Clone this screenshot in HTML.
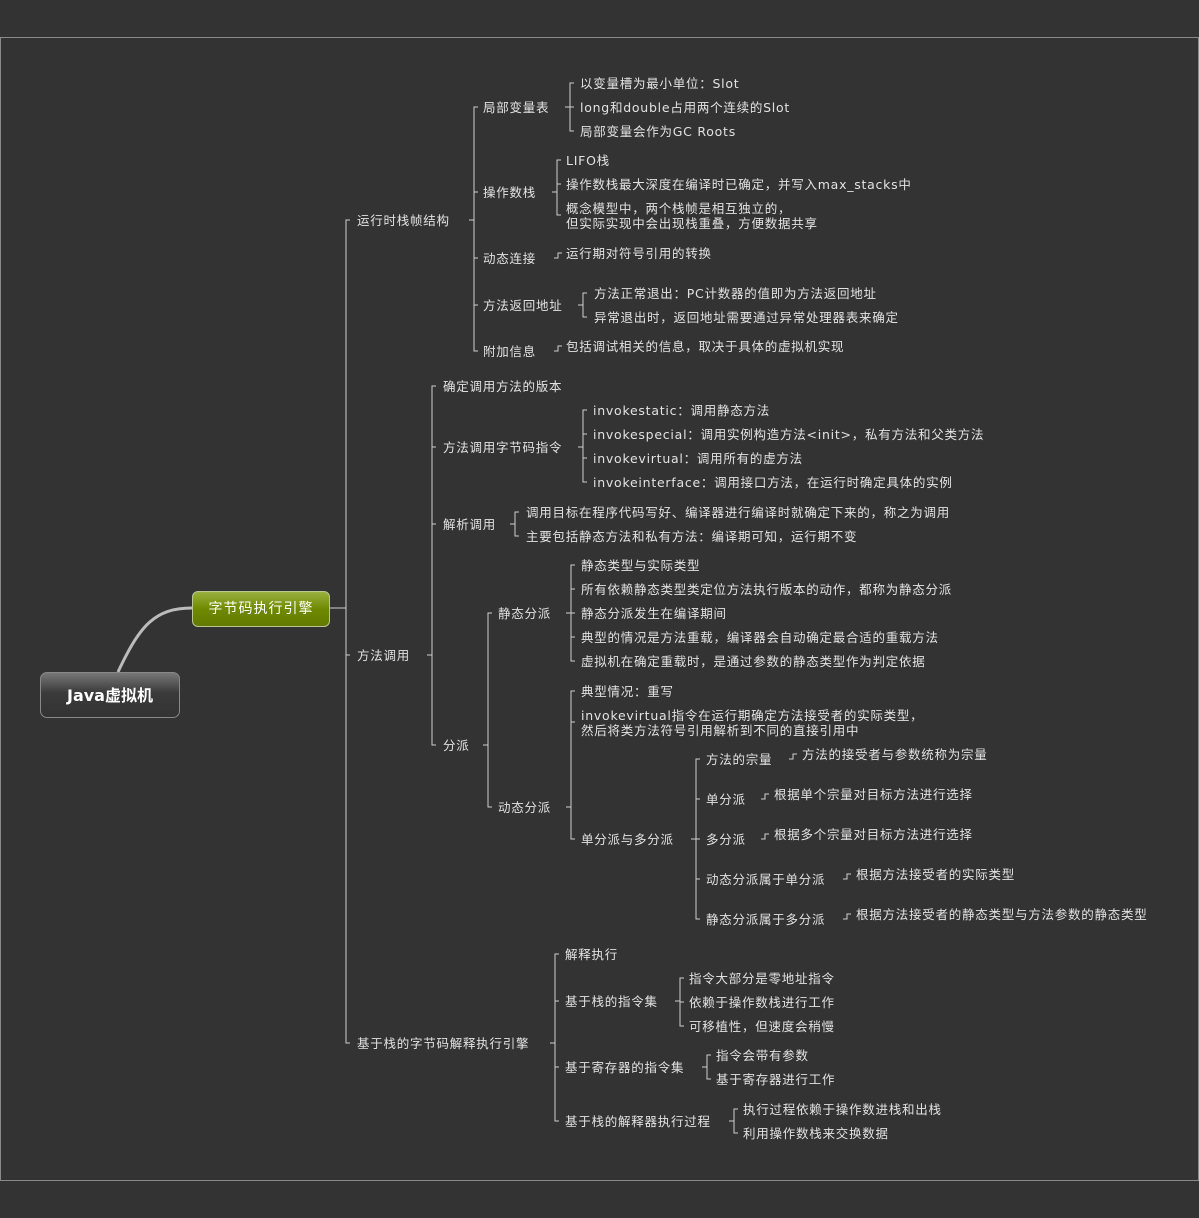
<!DOCTYPE html>
<html><head><meta charset="utf-8">
<style>
html,body{margin:0;padding:0;background:#333;width:1199px;height:1218px;overflow:hidden;position:relative}
.frame{position:absolute;left:0;top:37px;width:1197px;height:1142px;border:1px solid #8a8a8a;}
.w{position:absolute;left:0;top:1px;width:1199px;height:1218px}
.t{position:absolute;font-family:"DejaVu Sans","Noto Sans CJK SC",sans-serif;font-size:12.5px;letter-spacing:0.75px;color:#e2e2e2;line-height:15px;white-space:nowrap}
svg{position:absolute;left:0;top:0}
.root{position:absolute;left:40px;top:672px;width:140px;height:46px;border-radius:7px;border:1px solid #888;background:linear-gradient(#777,#3a3a3a 45%,#333);color:#fff;font:bold 16px "DejaVu Sans","Noto Sans CJK SC",sans-serif;text-align:center;line-height:46px;box-sizing:border-box}
.main{position:absolute;left:192px;top:591px;width:138px;height:36px;border-radius:6px;border:1px solid #b8c890;background:linear-gradient(#9ab040,#6f8a00 50%,#627a00);color:#fff;font:14px "DejaVu Sans","Noto Sans CJK SC",sans-serif;text-align:center;line-height:34px;box-sizing:border-box;letter-spacing:1px}
</style></head><body>
<div class="frame"></div>
<svg id="s" width="1199" height="1218"></svg>
<div class="root">Java虚拟机</div>
<div class="main">字节码执行引擎</div>
<div class="w">
<div class="t" style="left:357px;top:212px">运行时栈帧结构</div>
<div class="t" style="left:357px;top:647px">方法调用</div>
<div class="t" style="left:357px;top:1035px">基于栈的字节码解释执行引擎</div>

<div class="t" style="left:483px;top:99px">局部变量表</div>
<div class="t" style="left:483px;top:184px">操作数栈</div>
<div class="t" style="left:483px;top:250px">动态连接</div>
<div class="t" style="left:483px;top:297px">方法返回地址</div>
<div class="t" style="left:483px;top:343px">附加信息</div>

<div class="t" style="left:580px;top:75px">以变量槽为最小单位：Slot</div>
<div class="t" style="left:580px;top:99px">long和double占用两个连续的Slot</div>
<div class="t" style="left:580px;top:123px">局部变量会作为GC Roots</div>
<div class="t" style="left:566px;top:152px">LIFO栈</div>
<div class="t" style="left:566px;top:176px">操作数栈最大深度在编译时已确定，并写入max_stacks中</div>
<div class="t" style="left:566px;top:200px">概念模型中，两个栈帧是相互独立的，<br>但实际实现中会出现栈重叠，方便数据共享</div>
<div class="t" style="left:566px;top:245px">运行期对符号引用的转换</div>
<div class="t" style="left:594px;top:285px">方法正常退出：PC计数器的值即为方法返回地址</div>
<div class="t" style="left:594px;top:309px">异常退出时，返回地址需要通过异常处理器表来确定</div>
<div class="t" style="left:566px;top:338px">包括调试相关的信息，取决于具体的虚拟机实现</div>

<div class="t" style="left:443px;top:378px">确定调用方法的版本</div>
<div class="t" style="left:443px;top:439px">方法调用字节码指令</div>
<div class="t" style="left:443px;top:516px">解析调用</div>
<div class="t" style="left:443px;top:737px">分派</div>

<div class="t" style="left:593px;top:402px">invokestatic：调用静态方法</div>
<div class="t" style="left:593px;top:426px">invokespecial：调用实例构造方法&lt;init&gt;，私有方法和父类方法</div>
<div class="t" style="left:593px;top:450px">invokevirtual：调用所有的虚方法</div>
<div class="t" style="left:593px;top:474px">invokeinterface：调用接口方法，在运行时确定具体的实例</div>
<div class="t" style="left:526px;top:504px">调用目标在程序代码写好、编译器进行编译时就确定下来的，称之为调用</div>
<div class="t" style="left:526px;top:528px">主要包括静态方法和私有方法：编译期可知，运行期不变</div>

<div class="t" style="left:498px;top:605px">静态分派</div>
<div class="t" style="left:498px;top:799px">动态分派</div>
<div class="t" style="left:581px;top:557px">静态类型与实际类型</div>
<div class="t" style="left:581px;top:581px">所有依赖静态类型类定位方法执行版本的动作，都称为静态分派</div>
<div class="t" style="left:581px;top:605px">静态分派发生在编译期间</div>
<div class="t" style="left:581px;top:629px">典型的情况是方法重载，编译器会自动确定最合适的重载方法</div>
<div class="t" style="left:581px;top:653px">虚拟机在确定重载时，是通过参数的静态类型作为判定依据</div>
<div class="t" style="left:581px;top:683px">典型情况：重写</div>
<div class="t" style="left:581px;top:707px">invokevirtual指令在运行期确定方法接受者的实际类型，<br>然后将类方法符号引用解析到不同的直接引用中</div>
<div class="t" style="left:581px;top:831px">单分派与多分派</div>

<div class="t" style="left:706px;top:751px">方法的宗量</div>
<div class="t" style="left:706px;top:791px">单分派</div>
<div class="t" style="left:706px;top:831px">多分派</div>
<div class="t" style="left:706px;top:871px">动态分派属于单分派</div>
<div class="t" style="left:706px;top:911px">静态分派属于多分派</div>
<div class="t" style="left:802px;top:746px">方法的接受者与参数统称为宗量</div>
<div class="t" style="left:774px;top:786px">根据单个宗量对目标方法进行选择</div>
<div class="t" style="left:774px;top:826px">根据多个宗量对目标方法进行选择</div>
<div class="t" style="left:856px;top:866px">根据方法接受者的实际类型</div>
<div class="t" style="left:856px;top:906px">根据方法接受者的静态类型与方法参数的静态类型</div>

<div class="t" style="left:565px;top:946px">解释执行</div>
<div class="t" style="left:565px;top:993px">基于栈的指令集</div>
<div class="t" style="left:565px;top:1059px">基于寄存器的指令集</div>
<div class="t" style="left:565px;top:1113px">基于栈的解释器执行过程</div>
<div class="t" style="left:689px;top:970px">指令大部分是零地址指令</div>
<div class="t" style="left:689px;top:994px">依赖于操作数栈进行工作</div>
<div class="t" style="left:689px;top:1018px">可移植性，但速度会稍慢</div>
<div class="t" style="left:716px;top:1047px">指令会带有参数</div>
<div class="t" style="left:716px;top:1071px">基于寄存器进行工作</div>
<div class="t" style="left:743px;top:1101px">执行过程依赖于操作数进栈和出栈</div>
<div class="t" style="left:743px;top:1125px">利用操作数栈来交换数据</div>
</div>
<script>
var s=document.getElementById('s'),d='';
function B(x,py,ys){var a=Math.min.apply(0,ys),b=Math.max.apply(0,ys);
 d+='M'+(x-5)+' '+py+'H'+x+' ';
 d+='M'+(x+4)+' '+a+'H'+x+'V'+b+'H'+(x+4)+' ';
 ys.forEach(function(y){if(y!=a&&y!=b)d+='M'+x+' '+y+'H'+(x+4)+' ';});}
function L(x,py,y){d+='M'+(x-4)+' '+py+'H'+x+'V'+y+'H'+(x+4)+' ';}
d+='M329 608H346 ';
B(346,608,[220,655,1043]);
B(474,220,[107,192,258,305,351]);
B(570,107,[83,107,131]);
B(557,192,[160,184,215]);
L(558,258,253);
B(583,305,[293,317]);
L(558,351,346);
B(432,655,[386,447,524,745]);
B(583,447,[410,434,458,482]);
B(515,524,[512,536]);
B(488,745,[613,807]);
B(571,613,[565,589,613,637,661]);
B(571,807,[691,722,839]);
B(696,839,[759,799,839,879,919]);
L(793,759,754);L(765,799,794);L(765,839,834);L(847,879,874);L(847,919,914);
B(555,1043,[954,1001,1067,1121]);
B(680,1001,[978,1002,1026]);
B(707,1067,[1055,1079]);
B(734,1121,[1109,1133]);
s.innerHTML='<path d="'+d+'" stroke="#cfcfcf" stroke-width="1" fill="none" shape-rendering="crispEdges"/>'+
'<path d="M118 672C140 625 155 608 192 608" stroke="#bbb" stroke-width="3" fill="none"/>';
</script>
</body></html>
